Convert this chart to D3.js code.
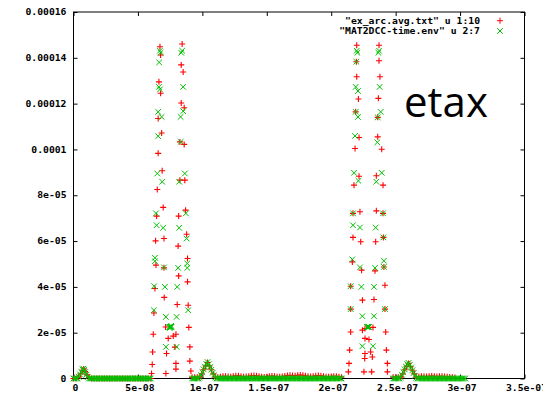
<!DOCTYPE html>
<html lang="en">
<head>
<meta charset="UTF-8">
<title>etax</title>
<style>
  body { margin: 0; background: #fff; }
  svg { display: block; }
  .tick text, .lbl { font-family: "DejaVu Sans Mono", monospace; font-weight: bold; font-size: 8px; fill: #000; }
</style>
</head>
<body>
<div id="chart"></div>
<script src="https://cdn.jsdelivr.net/npm/d3@7"></script>
<script>
// time in ns, value in units of 1e-5

// samples sitting on zero
var greenZeroT = [0,1,2,3,12,13,14,15,16,17,18,19,20,21,22,23,24,25,26,27,28,29,30,31,32,33,34,35,36,37,38,39,40,
  41,42,43,44,45,46,47,48,49,50,51,52,53,54,55,56,57,58,59,60,
  92,93,94,95,96,97,111,112,113,114,115,116,117,118,119,120,121,122,123,124,125,126,127,128,129,130,131,132,133,134,
  135,136,137,138,139,140,141,142,143,144,145,146,147,148,149,150,151,152,153,154,155,156,157,158,159,160,161,162,
  163,164,165,166,167,168,169,170,171,172,173,174,175,176,177,178,179,180,181,182,183,184,185,186,187,188,189,190,
  191,192,193,194,195,196,197,198,199,200,201,202,203,204,205,206,207,208,
  248,249,250,251,252,253,267,268,269,270,271,272,273,274,275,276,277,278,279,280,281,282,283,284,285,286,287,288,
  289,290,291,292,293,294,295,296,297,298,299,300,301,302,303,304];
var redZeroT = [0,2,14,16,18,20,22,24,26,28,30,32,34,36,38,40,42,44,46,48,50,52,54,56,58,60];

// small bumps near the baseline
var greenBumps = [[4,0.08],[5,0.18],[6,0.3],[7,0.4],[7.6,0.43],[8.2,0.38],[9,0.28],[10,0.16],[11,0.06],
  [98,0.05],[99,0.15],[100,0.28],[101,0.4],[102,0.52],[103,0.64],[104,0.72],[105,0.62],[106,0.5],[107,0.38],[108,0.25],[109,0.13],[110,0.04],
  [254,0.05],[255,0.16],[256,0.28],[257,0.4],[258,0.52],[259,0.63],[260,0.68],[261,0.6],[262,0.48],[263,0.36],[264,0.24],[265,0.12],[266,0.03]];
var redLow = [[4,0.06],[5.5,0.2],[7,0.36],[8,0.42],[9,0.3],[10.5,0.16],[12,0.04],
  [92,0.05],[94,0.05],[96,0.05],[98,0.06],[99.5,0.2],[101,0.38],[102.5,0.55],[104,0.7],[105.5,0.55],[107,0.38],[108.5,0.2],[110,0.06],
  [112,0.06],[114,0.08],[116,0.1],[118,0.1],[120,0.09],[122,0.08],[124,0.1],[126,0.12],[128,0.12],[130,0.1],[132,0.08],[134,0.09],
  [136,0.1],[138,0.12],[140,0.13],[142,0.12],[144,0.1],[146,0.08],[148,0.07],[150,0.08],[152,0.1],[154,0.11],[156,0.1],[158,0.08],
  [160,0.08],[162,0.09],[164,0.11],[166,0.13],[168,0.14],[170,0.13],[172,0.12],[174,0.14],[176,0.15],[178,0.14],[180,0.12],[182,0.1],
  [184,0.09],[186,0.1],[188,0.12],[190,0.13],[192,0.12],[194,0.1],[196,0.08],[198,0.08],[200,0.09],[202,0.1],[204,0.1],[206,0.08],[208,0.06],
  [248,0.06],[250,0.06],[252,0.06],[254,0.06],[255.5,0.2],[257,0.38],[258.5,0.54],[260,0.66],[261.5,0.52],[263,0.36],[264.5,0.2],[266,0.06],
  [268,0.08],[270,0.1],[272,0.1],[274,0.09],[276,0.1],[278,0.11],[280,0.1],[282,0.09],[284,0.1],[286,0.1],[288,0.09],[290,0.08],
  [292,0.07],[294,0.05],[296,0.04]];

// first pulse
var redPulse1 = [[67.1,14.48],[67.6,14.12],[66.3,12.95],[67.6,12.45],[65.7,11.35],[68.4,10.72],[65.7,9.83],[68.8,9.07],[65.0,8.25],
  [69.6,7.47],[64.5,7.09],[63.7,6.01],[70.2,6.11],[64.0,4.95],[70.2,4.83],[63.2,3.93],[70.4,3.54],[62.4,2.86],[61.9,1.93],[71.5,2.25],
  [73.5,1.75],[61.4,1.16],[72.2,1.09],[61.1,0.61],[60.6,0.22],[71.7,0.22],[79.5,0.66],[79.5,0.41],[77.4,1.85],[79.5,1.93],[78.7,1.37],
  [84.3,14.6],[83.6,13.69],[85.1,13.38],[83.6,12.03],[85.9,11.82],[82.6,10.33],[85.9,10.22],[82.6,8.66],[86.4,8.66],[87.0,7.35],
  [81.6,7.09],[87.8,6.30],[81.2,5.78],[88.5,5.24],[81.6,4.48],[88.5,4.22],[80.5,3.23],[89.0,3.20],[89.5,2.23],[90.3,1.38],[90.3,0.76],[91.1,0.33]];
var greenPulse1 = [[67.1,14.31],[67.6,14.22],[66.5,13.8],[66.3,12.73],[67.1,12.62],[65.7,11.64],[68.4,11.42],[65.7,10.58],[65.0,8.95],
  [68.8,8.59],[64.0,7.21],[64.5,6.69],[69.6,6.58],[63.2,5.27],[63.2,5.12],[70.2,4.85],[62.6,4.03],[70.9,4.0],[62.4,2.98],[71.7,2.69],
  [80.0,2.69],[71.7,1.38],[80.0,1.38],[74.4,2.25],[74.8,2.25],[75.2,2.25],[75.6,2.25],[76.0,2.25],[74.6,2.2],[75.8,2.3],
  [84.3,14.31],[83.6,14.22],[85.1,12.73],[85.1,11.67],[83.1,11.42],[83.1,10.33],[86.4,8.95],[82.0,8.59],[87.2,7.21],[82.0,6.58],
  [87.8,6.11],[88.3,5.02],[88.3,4.83],[81.2,4.83],[80.5,4.0],[89.0,2.98]];

// second pulse
var redPulse2 = [[219.8,14.55],[219.5,13.83],[219.8,13.17],[221.1,12.2],[219.0,11.64],[221.6,10.52],[218.5,10.04],[221.6,8.83],
  [217.7,8.44],[216.9,7.21],[222.3,7.28],[216.9,6.16],[222.9,5.97],[216.4,5.09],[223.6,4.73],[215.1,4.03],[224.2,3.42],[215.1,3.03],
  [215.1,2.03],[224.2,2.11],[226.2,2.18],[226.2,1.75],[229.3,1.7],[214.3,1.24],[226.2,1.09],[230.6,1.16],[231.9,0.94],[226.0,0.87],
  [213.8,0.66],[213.3,0.29],[225.4,0.29],[231.4,0.29],
  [237.1,14.55],[237.1,13.87],[237.8,13.17],[236.6,12.23],[236.1,11.4],[236.1,10.55],[239.2,10.01],[235.0,8.85],[240.2,8.44],
  [235.0,7.32],[240.2,7.21],[234.5,5.97],[240.5,6.16],[240.9,4.87],[234.0,4.7],[241.7,4.07],[233.2,3.45],[241.7,3.03],[232.4,2.23],
  [242.3,2.03],[242.8,1.24],[243.6,0.66],[243.6,0.29]];
var greenPulse2 = [[219.8,14.31],[220.3,14.22],[219.5,13.83],[219.0,12.73],[220.8,12.55],[219.0,11.64],[220.8,11.42],[218.5,10.59],
  [217.7,8.98],[221.1,8.63],[216.9,7.21],[216.9,6.69],[222.3,6.59],[216.4,5.2],[222.3,4.85],[215.1,4.03],[223.4,4.0],[215.1,3.03],
  [224.2,2.72],[224.2,1.41],[227.8,2.25],[228.2,2.25],[228.6,2.25],[229.0,2.25],[229.4,2.25],
  [237.1,14.31],[236.6,14.22],[237.6,12.73],[238.4,11.64],[236.1,11.4],[235.8,10.31],[239.2,8.98],[235.0,8.59],[240.2,7.21],
  [234.5,6.59],[240.5,6.16],[240.9,5.14],[234.0,4.83],[240.9,4.87],[233.2,4.0],[241.7,3.03],[233.2,2.72],[232.4,1.41]];

var xTicks = [0, 5e-8, 1e-7, 1.5e-7, 2e-7, 2.5e-7, 3e-7, 3.5e-7];
var xTickLabels = ["0", "5e-08", "1e-07", "1.5e-07", "2e-07", "2.5e-07", "3e-07", "3.5e-07"];
var yTicks = [0, 2e-5, 4e-5, 6e-5, 8e-5, 1e-4, 1.2e-4, 1.4e-4, 1.6e-4];
var yTickLabels = ["0", "2e-05", "4e-05", "6e-05", "8e-05", "0.0001", "0.00012", "0.00014", "0.00016"];
var legendLabels = ['"ex_arc.avg.txt" u 1:10', '"MAT2DCC-time.env" u 2:7'];

var redSeries = redZeroT.map(function(t) { return [t, 0]; }).concat(redLow, redPulse1, redPulse2);
var greenSeries = greenZeroT.map(function(t) { return [t, 0]; }).concat(greenBumps, greenPulse1, greenPulse2);

var width = 543, height = 396;
var plotL = 73.5, plotR = 524.5, plotT = 12, plotB = 378.5;
var sx = 1.22; // gnuplot font is wide and short

var svg = d3.select("#chart").append("svg")
    .attr("width", width)
    .attr("height", height);
svg.append("rect").attr("width", width).attr("height", height).attr("fill", "#fff");

var x = d3.scaleLinear().domain([0, 3.5e-7]).range([plotL, plotR]);
var y = d3.scaleLinear().domain([0, 1.6e-4]).range([plotB, plotT]);

function widen(sel, dx) {
    sel.selectAll("text").each(function() {
        var t = d3.select(this);
        var xx = (+t.attr("x") || 0) + dx, yy = +t.attr("y") || 0;
        t.attr("x", 0).attr("y", 0)
         .attr("transform", "translate(" + xx + "," + yy + ") scale(" + sx + ",1)");
    });
}

// axes, ticks point inward on all four sides
var gl = svg.append("g").attr("transform", "translate(" + plotL + ",0)")
    .call(d3.axisLeft(y).tickValues(yTicks).tickSize(-4).tickPadding(7)
        .tickFormat(function(d, i) { return yTickLabels[i]; }));
var gb = svg.append("g").attr("transform", "translate(0," + plotB + ")")
    .call(d3.axisBottom(x).tickValues(xTicks).tickSize(-4).tickPadding(6)
        .tickFormat(function(d, i) { return xTickLabels[i]; }));
var gt = svg.append("g").attr("transform", "translate(0," + plotT + ")")
    .call(d3.axisTop(x).tickValues(xTicks).tickSize(-4).tickFormat(""));
var gr = svg.append("g").attr("transform", "translate(" + plotR + ",0)")
    .call(d3.axisRight(y).tickValues(yTicks).tickSize(-4).tickFormat(""));

[gl, gb, gt, gr].forEach(function(g) {
    g.select(".domain").remove();
    g.selectAll("line").attr("stroke", "#000");
    g.selectAll("text").attr("font-family", null).attr("font-size", null);
});
widen(gl, 0);
widen(gb, 1.5);
gb.selectAll("text").attr("dy", "0.75em");

svg.append("rect")
    .attr("x", plotL).attr("y", plotT)
    .attr("width", plotR - plotL).attr("height", plotB - plotT)
    .attr("fill", "none").attr("stroke", "#000").attr("stroke-width", 1);

var plus = "M-3,0H3M0,-3V3";
var cross = "M-2.8,-2.8L2.8,2.8M-2.8,2.8L2.8,-2.8";

svg.append("g").selectAll("path")
    .data(redSeries)
    .enter().append("path")
    .attr("d", plus)
    .attr("transform", function(d) { return "translate(" + x(d[0] * 1e-9) + "," + y(d[1] * 1e-5) + ")"; })
    .attr("fill", "none").attr("stroke", "#ff0000").attr("stroke-width", 1.1);

svg.append("g").selectAll("path")
    .data(greenSeries)
    .enter().append("path")
    .attr("d", cross)
    .attr("transform", function(d) { return "translate(" + x(d[0] * 1e-9) + "," + y(d[1] * 1e-5) + ")"; })
    .attr("fill", "none").attr("stroke", "#00c000").attr("stroke-width", 1);

// legend
var legend = svg.append("g");
var legendMarks = [plus, cross], legendColors = ["#ff0000", "#00c000"];
legendLabels.forEach(function(l, i) {
    var ly = 20.7 + i * 10.3;
    legend.append("text").attr("class", "lbl")
        .attr("text-anchor", "end").attr("dy", "0.35em")
        .attr("transform", "translate(480," + ly + ") scale(" + sx + ",1)")
        .text(l);
    legend.append("path").attr("d", legendMarks[i])
        .attr("transform", "translate(500," + ly + ")")
        .attr("fill", "none").attr("stroke", legendColors[i]).attr("stroke-width", 1);
});

svg.append("text")
    .attr("x", 404).attr("y", 117)
    .attr("font-family", "Open Sans, sans-serif")
    .attr("font-size", 42)
    .attr("fill", "#000")
    .text("etax");
</script>
</body>
</html>
